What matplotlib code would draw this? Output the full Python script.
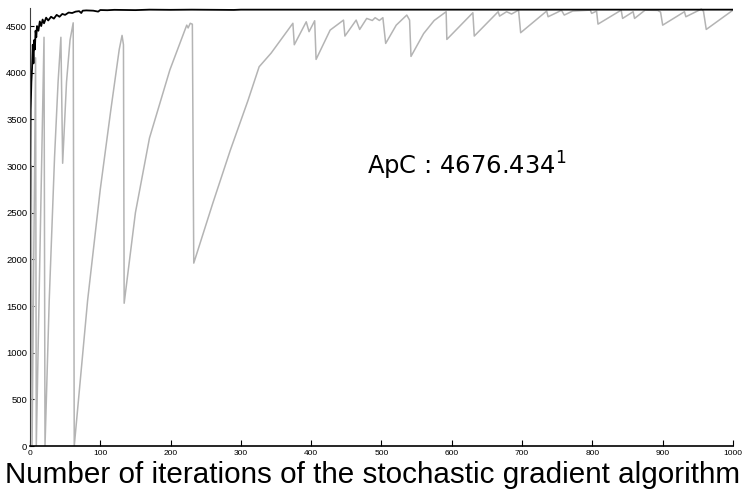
import matplotlib.pyplot as plt

# grey curve (waypoints)
gray_x = [0, 2, 3, 8, 9, 20, 21.4, 27.4, 35, 40, 44, 46.5, 52, 57, 61.5, 63,
          82, 100, 115, 127, 131, 133, 134, 150, 170, 199, 223, 225, 228, 231,
          233, 260, 285, 310, 326, 343, 374, 376, 393, 397, 405, 407, 427, 446,
          448, 464, 469, 479, 487, 491, 497, 502, 506, 521, 536, 540, 542, 560,
          575, 592, 593, 630, 632, 666, 668, 678, 685, 695, 698, 735, 737, 749,
          756, 760, 772, 797, 799, 806, 808, 841, 843, 858, 860, 875, 893, 897,
          900, 931, 933, 955, 958, 962, 1000]
gray_y = [0, 3000, 0, 4160, 0, 4380, 0, 1560, 3100, 3900, 4380, 3030, 3900,
          4350, 4535, 0, 1560, 2750, 3600, 4250, 4400, 4300, 1530, 2500, 3300,
          4030, 4510, 4480, 4530, 4520, 1960, 2600, 3170, 3700, 4064, 4210,
          4530, 4300, 4546, 4440, 4557, 4143, 4457, 4564, 4393, 4564, 4464,
          4582, 4560, 4590, 4560, 4590, 4314, 4510, 4618, 4564, 4175, 4420,
          4560, 4654, 4357, 4643, 4393, 4654, 4607, 4654, 4629, 4671, 4429,
          4661, 4600, 4643, 4670, 4618, 4661, 4671, 4636, 4660, 4521, 4671,
          4582, 4654, 4582, 4671, 4668, 4650, 4510, 4654, 4600, 4682, 4660,
          4464, 4671]

# black curve
black_x = [0, 1, 2, 3, 4, 5, 6, 7, 8, 9, 10, 12, 14, 16, 18, 20, 23, 26, 30,
           34, 38, 42, 46, 50, 55, 60, 65, 70, 73, 75, 80, 90, 97, 100, 110,
           120, 150, 170, 200, 230, 290, 300, 400, 500, 600, 700, 800, 900, 1000]
black_y = [2080, 3600, 3900, 4050, 4300, 4100, 4350, 4250, 4450, 4380, 4500,
           4450, 4550, 4500, 4570, 4530, 4590, 4560, 4600, 4580, 4620, 4600,
           4630, 4620, 4645, 4640, 4655, 4660, 4640, 4665, 4668, 4665, 4655,
           4672, 4670, 4674, 4671, 4676, 4674, 4676, 4673, 4676, 4676, 4676,
           4676, 4676, 4676, 4676, 4676]

plt.rcParams['mathtext.fontset'] = 'dejavusans'
plt.rcParams['font.family'] = 'Liberation Sans'

fig = plt.figure(figsize=(7.49, 4.91), dpi=100)
ax = fig.add_axes([0.040, 0.0916, 0.9386, 0.8914])

ax.plot(gray_x, gray_y, color='#b4b4b4', lw=1.1)
ax.plot(black_x, black_y, color='black', lw=1.3)

ax.set_xlim(0, 1000)
ax.set_ylim(0, 4690)
ax.set_xticks(range(0, 1001, 100))
ax.set_yticks(range(0, 4501, 500))
ax.tick_params(axis='x', direction='in', length=4.5, labelsize=6, pad=3)
ax.tick_params(axis='y', direction='in', length=3, labelsize=6.8, pad=2)
for s in ['top', 'right']:
    ax.spines[s].set_visible(False)
ax.spines['bottom'].set_linewidth(1.2)
ax.spines['left'].set_color('#404040')

ax.text(479, 2912, 'ApC : 4676.434$^1$', fontsize=17.5, family='DejaVu Sans',
        va='baseline', ha='left')

fig.text(0.497, 1 - 483 / 491, 'Number of iterations of the stochastic gradient algorithm',
         fontsize=21.3, ha='center', va='baseline')

fig.savefig('out.png', dpi=100)
